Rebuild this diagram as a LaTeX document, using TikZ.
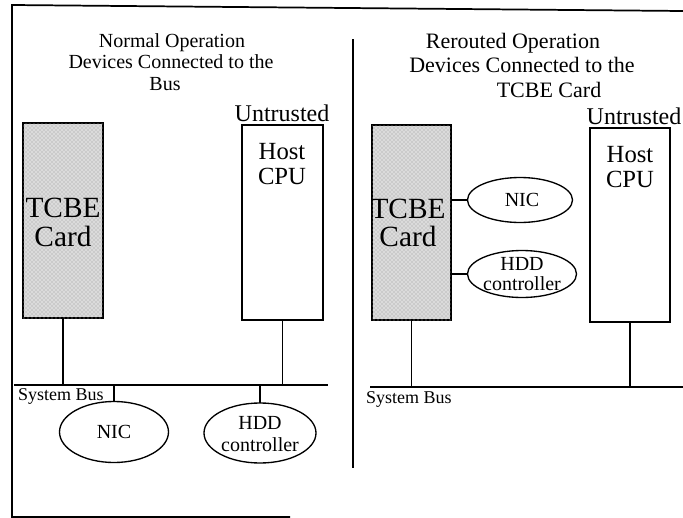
\documentclass[tikz,border=0pt]{standalone}
\usepackage{fontspec}
\setmainfont{Liberation Serif}
\usetikzlibrary{shapes.geometric,patterns}
\begin{document}
\begin{tikzpicture}[x=0.75pt,y=-0.75pt,
  every node/.style={inner sep=0pt, outer sep=0pt},
  card/.style={draw=black, line width=1.1pt, fill=gray!28,
    postaction={pattern=crosshatch dots, pattern color=black!40}},
  cpu/.style={draw=black, line width=1.1pt, fill=white},
  dev/.style={draw=black, ellipse, line width=1pt},
  devtext/.style={align=center, font=\fontsize{15}{16}\selectfont},
  wire/.style={line width=1pt},
  frame/.style={line width=1.3pt},
  ttl/.style={anchor=base, font=\fontsize{15}{18}\selectfont},
  ttr/.style={anchor=base, font=\fontsize{16.5}{18}\selectfont},
  untr/.style={anchor=base, font=\fontsize{18}{20}\selectfont},
  host/.style={anchor=base, font=\fontsize{18.5}{20}\selectfont},
  tcbe/.style={anchor=base, font=\fontsize{22}{24}\selectfont},
  bus/.style={anchor=base west, font=\fontsize{13.5}{15}\selectfont},
]
\useasboundingbox (0,0) rectangle (683,518);

% page frame and the divider between the two cases
\draw[frame] (290,517) -- (12,517) -- (12,5) -- (683,11);
\draw[line width=1.1pt] (353,39) -- (353,468);

% ---------------- normal operation ----------------
\node[ttl] (tl1) at (172,47) {Normal Operation};
\node[ttl] (tl2) at (171,68) {Devices Connected to the};
\node[ttl] (tl3) at (165,90) {Bus};

\node[card, anchor=north west, minimum width=60pt, minimum height=146.25pt] (cardL) at (23,123) {};
\node[tcbe] (cardLa) at (63,217) {TCBE};
\node[tcbe] (cardLb) at (63,246) {Card};

\node[cpu, anchor=north west, minimum width=60.75pt, minimum height=146.25pt] (cpuL) at (242,125) {};
\node[untr] (untrL) at (282,121) {Untrusted};
\node[host] (hostLa) at (282,159) {Host};
\node[host] (hostLb) at (282,184) {CPU};

\coordinate (busLa) at (14,385);
\coordinate (busLb) at (328,385);
\draw[wire] (busLa) -- (busLb);
\node[bus] (busLtxt) at (18,400) {System Bus};

\node[dev, minimum width=81.75pt, minimum height=45.75pt] (nicL) at (114,432) {};
\node[devtext] (nicLt) at (114,432) {NIC};
\node[dev, minimum width=84pt, minimum height=45pt] (hddL) at (260,433) {};
\node[devtext, font=\fontsize{15}{17}\selectfont] (hddLt) at (260,434) {HDD\\controller};

\draw[wire] (cardL.south) -- (cardL.south |- busLa);
\draw[wire] (cpuL.south) -- (cpuL.south |- busLa);
\draw[wire] (nicL.north) -- (nicL.north |- busLa);
\draw[wire] (hddL.north) -- (hddL.north |- busLa);

% ---------------- rerouted operation ----------------
\node[ttr] (tr1) at (513,48) {Rerouted Operation};
\node[ttr] (tr2) at (522,72) {Devices Connected to the};
\node[ttr] (tr3) at (549,97) {TCBE Card};

\node[card, anchor=north west, minimum width=59.25pt, minimum height=146.25pt] (cardR) at (372,125) {};
\node[tcbe] (cardRa) at (408,218) {TCBE};
\node[tcbe] (cardRb) at (408,246) {Card};

\node[cpu, anchor=north west, minimum width=60pt, minimum height=145.5pt] (cpuR) at (590,128) {};
\node[untr] (untrR) at (634,124) {Untrusted};
\node[host] (hostRa) at (630,162) {Host};
\node[host] (hostRb) at (630,187) {CPU};

\node[dev, minimum width=78.75pt, minimum height=33.75pt] (nicR) at (520,200) {};
\node[devtext] (nicRt) at (522,200) {NIC};
\node[dev, minimum width=81.75pt, minimum height=35.25pt] (hddR) at (522,274) {};
\node[devtext, font=\fontsize{15}{14.5}\selectfont] (hddRt) at (522,274) {HDD\\controller};

\draw[wire] (nicR.west) -- (nicR.west -| cardR.east);
\draw[wire] (hddR.west) -- (hddR.west -| cardR.east);

\coordinate (busRa) at (370,387);
\coordinate (busRb) at (683,387);
\draw[wire] (busRa) -- (busRb);
\node[bus] (busRtxt) at (366,403) {System Bus};

\draw[wire] (cardR.south) -- (cardR.south |- busRa);
\draw[wire] (cpuR.south) -- (cpuR.south |- busRa);
\end{tikzpicture}
\end{document}
